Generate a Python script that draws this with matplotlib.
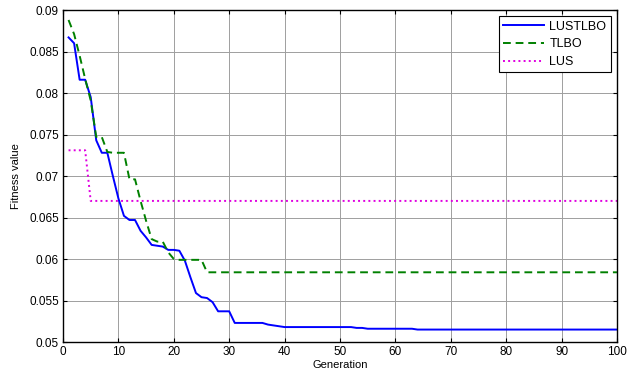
import matplotlib
matplotlib.use("Agg")
import matplotlib.pyplot as plt

plt.rcParams['font.family'] = ['Liberation Sans', 'DejaVu Sans']

# values read per generation (1..100), flat tails filled out below
lustlbo_head = [0.0867, 0.0860, 0.0816, 0.0816, 0.0795, 0.0743, 0.0728, 0.0728,
                0.0700, 0.0673, 0.0652, 0.0647, 0.0647, 0.0634, 0.0626, 0.0617,
                0.0616, 0.0615, 0.0611, 0.0611, 0.0610, 0.0598, 0.0578, 0.0559,
                0.0554, 0.0553, 0.0548, 0.0537, 0.0537, 0.0537, 0.0523, 0.0523,
                0.0523, 0.0523, 0.0523, 0.0523, 0.0521, 0.0520, 0.0519, 0.0518]
lustlbo_steps = [(41, 0.0518), (53, 0.0517), (55, 0.0516), (64, 0.0515)]

tlbo_head = [0.0888, 0.0871, 0.0845, 0.0817, 0.0791, 0.0747, 0.0747, 0.0729,
             0.0728, 0.0728, 0.0728, 0.0696, 0.0696, 0.0670, 0.0646, 0.0624,
             0.0621, 0.0621, 0.0608, 0.0600, 0.0599, 0.0599, 0.0599, 0.0599,
             0.0599, 0.0584]
tlbo_tail = 0.0584

lus_head = [0.0731, 0.0731, 0.0731, 0.0731]
lus_tail = 0.0670

n_gen = 100
gens = list(range(1, n_gen + 1))


def fill(head, steps):
    vals = list(head)
    while len(vals) < n_gen:
        g = len(vals) + 1
        v = vals[-1]
        for start, val in steps:
            if g >= start:
                v = val
        vals.append(v)
    return vals


lustlbo = fill(lustlbo_head, lustlbo_steps)
tlbo = fill(tlbo_head, [(27, tlbo_tail)])
lus = fill(lus_head, [(5, lus_tail)])

fig = plt.figure(figsize=(6.27, 3.78), dpi=100)
ax = fig.add_axes([0.1005, 0.0952, 0.8835, 0.8783])

ax.plot(gens, lustlbo, '-', color='#0000ff', lw=1.4, label='LUSTLBO')
ax.plot(gens, tlbo, '--', color='#008000', lw=1.4, dashes=(4, 2.5), label='TLBO')
ax.plot(gens, lus, ':', color='#e000e0', lw=1.4, label='LUS')

ax.set_xlim(0, 100)
ax.set_ylim(0.05, 0.09)
ax.set_xticks(range(0, 101, 10))
ax.set_yticks([0.05, 0.055, 0.06, 0.065, 0.07, 0.075, 0.08, 0.085, 0.09])
ax.set_yticklabels(['0.05', '0.055', '0.06', '0.065', '0.07', '0.075',
                    '0.08', '0.085', '0.09'])
ax.tick_params(direction='in', top=True, right=True, labelsize=8.5, length=3,
               width=0.8, pad=3)
ax.grid(True, color='0.62', lw=0.7, ls='-')
for s in ax.spines.values():
    s.set_linewidth(1.0)

ax.set_xlabel('Generation', fontsize=8, labelpad=1)
ax.set_ylabel('Fitness value', fontsize=8, labelpad=6)

leg = ax.legend(loc='upper right', fontsize=9, fancybox=False, framealpha=1,
                edgecolor='black', handlelength=3.3, handletextpad=0.4,
                labelspacing=0.45, borderpad=0.35, borderaxespad=0.5)
leg.get_frame().set_linewidth(0.8)

fig.savefig('out.png', dpi=100)
